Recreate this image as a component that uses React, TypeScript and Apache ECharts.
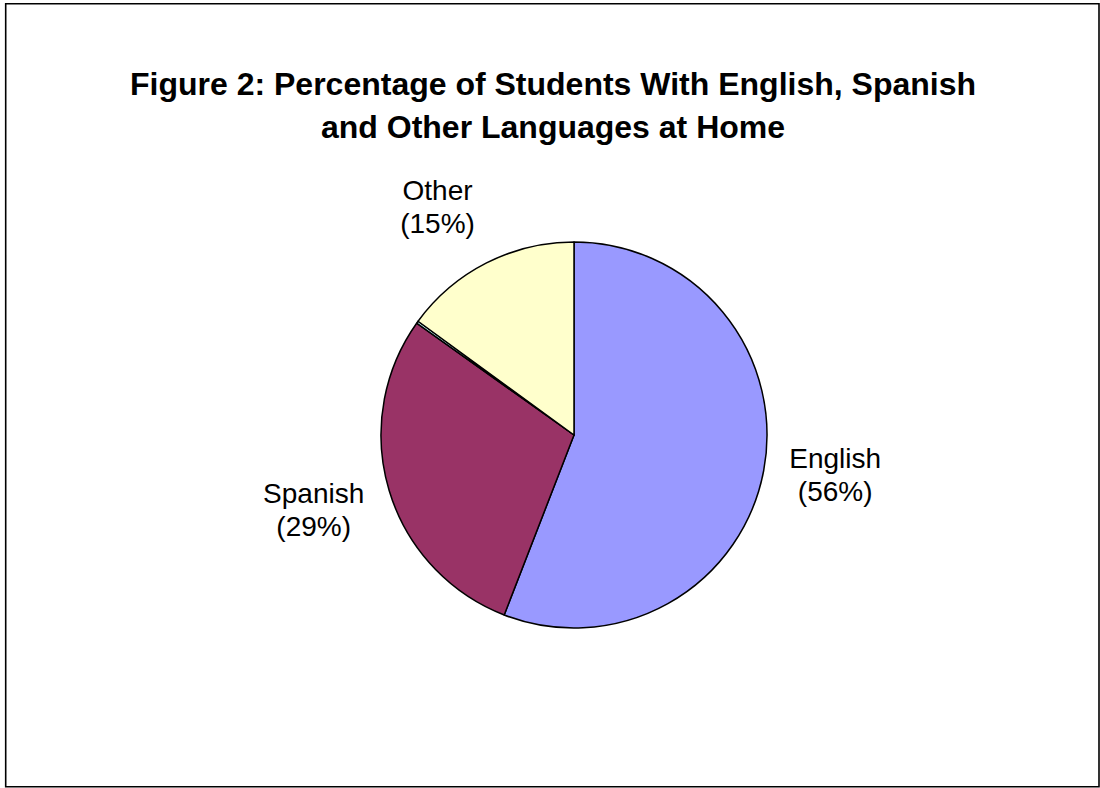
import React, { useEffect, useRef } from "react";
import * as echarts from "echarts";

// ---- data ----
const categories: string[] = ["English", "Spanish", "Not reported", "Other"];
const shares: number[] = [56, 29, 0.2, 15];
const labelVisible: boolean[] = [true, true, false, true];
const titleLines: string[] = [
  "Figure 2: Percentage of Students With English, Spanish",
  "and Other Languages at Home",
];

// ---- styles ----
const sliceColors = ["#9999FF", "#993366", "#CCFFFF", "#FFFFCC"];
const FONT = "'Liberation Sans', Arial, sans-serif";
const CX = 574;
const CY = 435;
const R = 193;
const LABEL_GAP = 26;

const clamp = (v: number) => Math.max(-1, Math.min(1, v));

function midDirection(index: number) {
  const total = shares.reduce((a, b) => a + b, 0);
  let before = 0;
  for (let i = 0; i < index; i++) before += shares[i];
  const mid = ((before + shares[index] / 2) / total) * Math.PI * 2; // clockwise from top
  return { dx: Math.sin(mid), dy: -Math.cos(mid) };
}

export default function App() {
  const ref = useRef<HTMLDivElement>(null);

  useEffect(() => {
    document.body.style.margin = "0";
    if (!ref.current) return;
    const chart = echarts.init(ref.current, undefined, { renderer: "svg" });

    const data = categories.map((name, i) => ({
      name,
      value: shares[i],
      itemStyle: { color: sliceColors[i] },
      label: { show: labelVisible[i] },
    }));

    chart.setOption({
      animation: false,
      backgroundColor: "#FFFFFF",
      graphic: [
        {
          type: "rect",
          shape: { x: 5.7, y: 3.8, width: 1093.3, height: 783 },
          style: { fill: "none", stroke: "#000000", lineWidth: 1.6 },
          silent: true,
        },
        {
          type: "text",
          x: 553,
          y: 62,
          silent: true,
          style: {
            text: titleLines.join("\n"),
            fontFamily: FONT,
            fontSize: 32,
            fontWeight: "bold",
            lineHeight: 43.5,
            fill: "#000000",
            align: "center",
            verticalAlign: "top",
          },
        },
      ],
      series: [
        {
          type: "pie",
          center: [CX, CY],
          radius: R,
          startAngle: 90,
          clockwise: true,
          avoidLabelOverlap: false,
          emphasis: { disabled: true },
          itemStyle: { borderColor: "#000000", borderWidth: 1.5 },
          label: {
            position: "outside",
            fontFamily: FONT,
            fontSize: 28,
            lineHeight: 33,
            color: "#000000",
            formatter: (p: any) => `${p.name}\n(${p.value}%)`,
          },
          labelLine: { show: false },
          labelLayout: (params: any) => {
            const { dx, dy } = midDirection(params.dataIndex);
            const w = params.labelRect.width;
            const h = params.labelRect.height;
            const ax = CX + dx * (R + LABEL_GAP);
            const ay = CY + dy * (R + LABEL_GAP);
            const fx = clamp(dx * 2.2);
            const fy = Math.sign(dy) * clamp(Math.max(0, Math.abs(dy) - 0.19) * 3.7);
            return {
              x: ax + (fx * w) / 2,
              y: ay + (fy * h) / 2,
              align: "center",
              verticalAlign: "middle",
            };
          },
          data,
        },
      ],
    });

    return () => chart.dispose();
  }, []);

  return <div ref={ref} style={{ width: 1100, height: 788 }} />;
}
